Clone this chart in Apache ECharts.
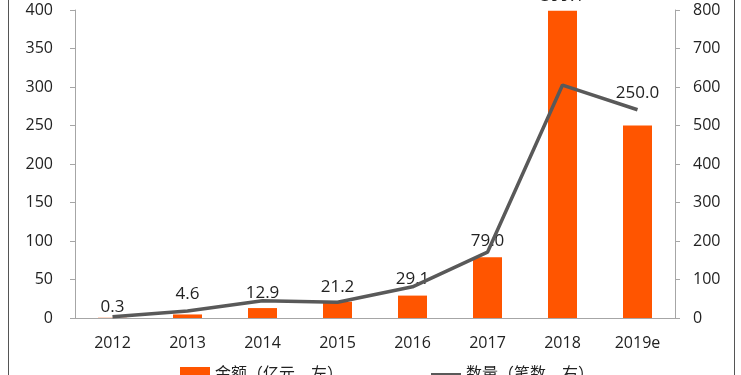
<!DOCTYPE html>
<html><head><meta charset="utf-8">
<script src="https://cdn.jsdelivr.net/npm/echarts@6/dist/echarts.min.js"></script>
<style>html,body{margin:0;padding:0;background:#fff}#c{width:741px;height:375px}</style>
</head><body><div id="c"></div>
<script>
const categories = ['2012','2013','2014','2015','2016','2017','2018','2019e'];
const amountValues = [0.3, 4.6, 12.9, 21.2, 29.1, 79.0, 399.1, 250.0];
const countValues = [3, 18, 45, 41, 81, 171, 605, 541];
const leftTicks = [0, 400, 50];
const rightTicks = [0, 800, 100];
const labelLift = [2, 12, 6, 6, 8, 8, 6, 24];

const font = '"Open Sans", "Noto Sans CJK SC", sans-serif';
const chart = echarts.init(document.getElementById('c'), null, {renderer:'canvas'});
chart.setOption({
  animation: false,
  textStyle: {fontFamily: font},
  grid: {left: 75, right: 66, top: 10, bottom: 57},
  legend: {
    bottom: -12, left: 175, itemGap: 88, itemWidth: 30, itemHeight: 14,
    textStyle: {fontSize: 16, color: '#222', fontFamily: font},
    data: [{name: '金额（亿元，左）', icon: 'rect'}, {name: '数量（笔数，右）', icon: 'path://M0,6 L30,6 L30,8 L0,8 Z'}]
  },
  xAxis: {
    type: 'category', data: categories,
    axisLine: {lineStyle: {color: '#a6a6a6', width: 1}},
    axisTick: {show: false},
    axisLabel: {color: '#222', fontSize: 16, margin: 17, fontFamily: font}
  },
  yAxis: [
    {type: 'value', min: leftTicks[0], max: leftTicks[1], interval: leftTicks[2],
     splitLine: {show: false},
     axisLine: {show: true, lineStyle: {color: '#a6a6a6'}},
     axisTick: {show: true, inside: false, length: 5, lineStyle: {color: '#a6a6a6'}},
     axisLabel: {color: '#222', fontSize: 16, margin: 22, fontFamily: font}},
    {type: 'value', min: rightTicks[0], max: rightTicks[1], interval: rightTicks[2],
     splitLine: {show: false},
     axisLine: {show: true, lineStyle: {color: '#a6a6a6'}},
     axisTick: {show: true, inside: false, length: 5, lineStyle: {color: '#a6a6a6'}},
     axisLabel: {color: '#222', fontSize: 16, margin: 18, fontFamily: font}}
  ],
  series: [
    {name: '金额（亿元，左）', type: 'bar', yAxisIndex: 0, barWidth: 29,
     itemStyle: {color: '#ff5500'},
     data: amountValues.map((v, i) => ({value: v, label: {distance: labelLift[i]}})),
     label: {show: true, position: 'top', color: '#222', fontSize: 17, fontFamily: font,
             formatter: p => p.value.toFixed(1)}},
    {name: '数量（笔数，右）', type: 'line', yAxisIndex: 1, data: countValues,
     symbol: 'none', smooth: false, z: 3,
     lineStyle: {color: '#595959', width: 3.5}, itemStyle: {color: '#595959'}}
  ],
  graphic: [
    {type: 'line', shape: {x1: 8.5, y1: 0, x2: 8.5, y2: 375}, style: {stroke: '#555', lineWidth: 1}},
    {type: 'line', shape: {x1: 734.5, y1: 0, x2: 734.5, y2: 375}, style: {stroke: '#555', lineWidth: 1}}
  ]
});
</script></body></html>
